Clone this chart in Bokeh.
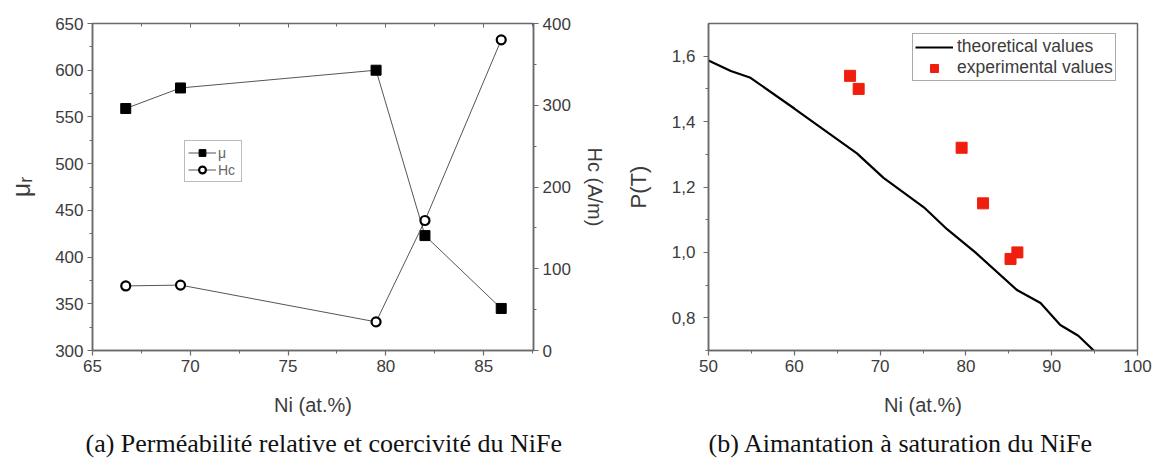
from bokeh.plotting import figure
from bokeh.layouts import row
from bokeh.models import (Range1d, LinearAxis, FixedTicker, Legend, LegendItem,
                          Title, CustomJSTickFormatter)
from bokeh.embed import file_html
from bokeh.resources import INLINE

# ---- data: panel (a) ----
ni_a = [66.7, 69.5, 79.5, 82.0, 85.9]
mu_r = [559, 581, 600, 423, 345]
hc = [79, 80, 35, 159, 380]

# ---- data: panel (b) ----
ni_theo = [50, 52.6, 54.9, 60, 67.3, 70.4, 75.1, 77.8, 81.1, 86.0, 88.7, 91.0, 93.1, 94.9]
p_theo = [1.587, 1.555, 1.534, 1.44, 1.303, 1.228, 1.138, 1.071, 1.0, 0.884, 0.845, 0.778, 0.745, 0.70]
ni_exp = [66.5, 67.5, 79.5, 82.0, 85.2, 86.0]
p_exp = [1.54, 1.50, 1.32, 1.15, 0.98, 1.00]

xt_a = [65, 70, 75, 80, 85]
xt_a_minor = [67.5, 72.5, 77.5, 82.5, 87.5]
yt_mu = [300, 350, 400, 450, 500, 550, 600, 650]
yt_mu_minor = [325, 375, 425, 475, 525, 575, 625]
yt_hc = [0, 100, 200, 300, 400]
yt_hc_minor = [50, 150, 250, 350]
xt_b = [50, 60, 70, 80, 90, 100]
xt_b_minor = [55, 65, 75, 85, 95]
yt_b = [0.8, 1.0, 1.2, 1.4, 1.6]
yt_b_minor = [0.7, 0.9, 1.1, 1.3, 1.5]

FONT = "Liberation Sans"
TXT = "#3c3c3c"
AX = "#6a6a6a"


def style_axis(ax, label_size="20px"):
    ax.axis_line_color = AX
    ax.axis_line_width = 1.5
    ax.major_tick_line_color = AX
    ax.minor_tick_line_color = AX
    ax.major_tick_line_width = 1.2
    ax.major_tick_out = 5
    ax.major_tick_in = 0
    ax.minor_tick_out = 3
    ax.minor_tick_in = 0
    ax.major_label_standoff = 4
    ax.major_label_text_font = FONT
    ax.major_label_text_font_size = "17px"
    ax.major_label_text_color = TXT
    ax.axis_label_text_font = FONT
    ax.axis_label_text_font_size = label_size
    ax.axis_label_text_font_style = "normal"
    ax.axis_label_text_color = TXT


def caption(p, text, dx):
    p.add_layout(Title(text=text, align="left", offset=dx,
                       text_font="Liberation Serif", text_font_size="26px",
                       text_font_style="normal", text_color="#111111",
                       standoff=16), "below")


# ================= panel (a) =================
p1 = figure(width=613, height=465, x_range=Range1d(65, 87.55), y_range=Range1d(300, 650),
            output_backend="svg", toolbar_location=None,
            min_border_left=92, min_border_right=80, min_border_top=23, min_border_bottom=115)
p1.xgrid.visible = False
p1.ygrid.visible = False
p1.outline_line_color = AX
p1.outline_line_width = 1.5

p1.xaxis.ticker = FixedTicker(ticks=xt_a, minor_ticks=xt_a_minor)
p1.xaxis.axis_label = "Ni (at.%)"
style_axis(p1.xaxis[0])
p1.xaxis.axis_label_standoff = 19
p1.yaxis.ticker = FixedTicker(ticks=yt_mu, minor_ticks=yt_mu_minor)
p1.yaxis.axis_label = "μᵣ"
style_axis(p1.yaxis[0], "25px")
p1.yaxis.axis_label_standoff = 17

p1.extra_y_ranges = {"hc": Range1d(0, 400)}
rax = LinearAxis(y_range_name="hc", ticker=FixedTicker(ticks=yt_hc, minor_ticks=yt_hc_minor),
                 axis_label="Hc (A/m)")
style_axis(rax, "20px")
rax.axis_label_standoff = 10
p1.add_layout(rax, "right")

tax = LinearAxis(ticker=FixedTicker(ticks=xt_a, minor_ticks=xt_a_minor))
tax.axis_line_color = None
tax.major_tick_in = 4
tax.major_tick_out = 0
tax.minor_tick_in = 3
tax.minor_tick_out = 0
tax.major_tick_line_color = AX
tax.minor_tick_line_color = AX
tax.major_label_overrides = {t: "" for t in xt_a}
tax.major_label_standoff = 0
p1.add_layout(tax, "above")

l_mu = p1.line(ni_a, mu_r, line_color="#555555", line_width=1)
s_mu = p1.scatter(ni_a, mu_r, marker="square", size=10, fill_color="black", line_color="black")
l_hc = p1.line(ni_a, hc, y_range_name="hc", line_color="#555555", line_width=1)
s_hc = p1.scatter(ni_a, hc, y_range_name="hc", marker="circle", size=9,
                  fill_color="white", line_color="black", line_width=2.2)

leg1 = Legend(items=[LegendItem(label="μ", renderers=[l_mu, s_mu]),
                     LegendItem(label="Hc", renderers=[l_hc, s_hc])],
              location=(92, 168))
leg1.border_line_color = "#777777"
leg1.border_line_width = 1.5
leg1.padding = 3
leg1.spacing = 0
leg1.margin = 0
leg1.glyph_width = 28
leg1.glyph_height = 17
leg1.label_height = 17
leg1.label_standoff = 2
leg1.label_text_font = FONT
leg1.label_text_font_size = "14px"
leg1.label_text_color = "#666666"
leg1.background_fill_alpha = 1
p1.add_layout(leg1, "center")

caption(p1, "(a) Perméabilité relative et coercivité du NiFe", -7)

# ================= panel (b) =================
p2 = figure(width=555, height=465, x_range=Range1d(50, 100), y_range=Range1d(0.7, 1.7),
            output_backend="svg", toolbar_location=None,
            min_border_left=95, min_border_right=31, min_border_top=23, min_border_bottom=112)
p2.xgrid.visible = False
p2.ygrid.visible = False
p2.outline_line_color = AX
p2.outline_line_width = 1.5

p2.xaxis.ticker = FixedTicker(ticks=xt_b, minor_ticks=xt_b_minor)
p2.xaxis.axis_label = "Ni (at.%)"
style_axis(p2.xaxis[0])
p2.xaxis.axis_label_standoff = 19
p2.yaxis.ticker = FixedTicker(ticks=yt_b, minor_ticks=yt_b_minor)
p2.yaxis.formatter = CustomJSTickFormatter(code="return tick.toFixed(1).replace('.', ',');")
p2.yaxis.axis_label = "P(T)"
style_axis(p2.yaxis[0], "22px")
p2.yaxis.major_label_standoff = 8
p2.yaxis.axis_label_standoff = 18

l_th = p2.line(ni_theo, p_theo, line_color="black", line_width=2.2)
s_ex = p2.scatter(ni_exp, p_exp, marker="square", size=11, fill_color="#f01e0e", line_color="#f01e0e")

leg2 = Legend(items=[LegendItem(label="theoretical values", renderers=[l_th]),
                     LegendItem(label="experimental values", renderers=[s_ex])],
              location=(204, 269))
leg2.border_line_color = "#555555"
leg2.border_line_width = 1.2
leg2.padding = 2
leg2.spacing = 0
leg2.margin = 0
leg2.glyph_width = 38
leg2.glyph_height = 20
leg2.label_height = 20
leg2.label_standoff = 4
leg2.label_text_font = FONT
leg2.label_text_font_size = "17.5px"
leg2.label_text_color = "#3c3c3c"
p2.add_layout(leg2, "center")

caption(p2, "(b) Aimantation à saturation du NiFe", 0)

layout = row(p1, p2)
open("out.html", "w").write(file_html(layout, INLINE))
